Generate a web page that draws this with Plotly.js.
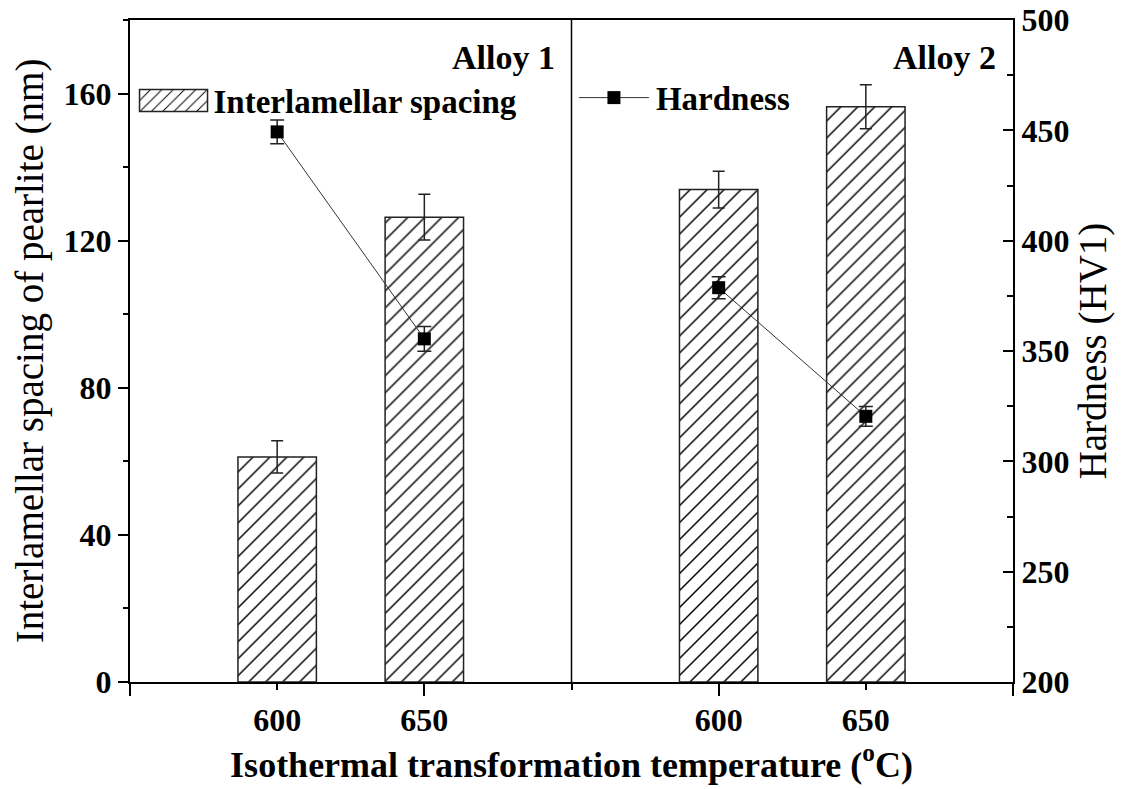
<!DOCTYPE html>
<html>
<head>
<meta charset="utf-8">
<script src="https://cdn.plot.ly/plotly-3.0.1.min.js"></script>
<style>
html,body{margin:0;padding:0;background:#fff;}
/* long legend swatches as in the reference */
#chart .legendlines path { d: path('M7,0 h70'); }
#chart .legendpoints path.pattern_filled { d: path('M34,11 H-34 V-11 H34 Z'); }
</style>
</head>
<body>
<div id="chart" style="width:1137px;height:789px;"></div>
<script>
// ---- data ----
const alloys = ['Alloy 1', 'Alloy 2'];
const temperatures = ['600', '650'];
// order: Alloy1-600, Alloy1-650, Alloy2-600, Alloy2-650
const spacing = [61.2, 126.4, 133.9, 156.4];        // nm
const spacingErr = [4.4, 6.2, 5.0, 6.0];
const hardness = [449.3, 355.5, 378.7, 320.4];      // HV1
const hardnessErr = [5.4, 5.6, 5.0, 4.5];

// ---- category positions on a numeric axis (one gap slot between alloys) ----
const pos = [];
const tickText = [];
alloys.forEach((a, ai) => temperatures.forEach((t, ti) => {
  pos.push(ai * (temperatures.length + 1) + ti + 1);
  tickText.push(t);
}));
const groupSize = temperatures.length + 1;
const xMax = alloys.length * groupSize;
const dividers = alloys.slice(0, -1).map((a, ai) => (ai + 1) * groupSize);

const FONT = 'Liberation Serif, Times New Roman, serif';
const INK = '#000';

const traces = [];
traces.push({
  type: 'bar', x: pos, y: spacing, name: 'Interlamellar spacing',
  xaxis: 'x', yaxis: 'y', width: 0.533, legend: 'legend', showlegend: true,
  marker: {
    color: '#fff',
    line: {color: '#222', width: 1.5},
    pattern: {shape: '/', fgcolor: '#000', bgcolor: '#fff', size: 12, solidity: 0.12, fillmode: 'replace'}
  },
  error_y: {type: 'data', array: spacingErr, visible: true, color: '#222', thickness: 1.5, width: 6}
});
alloys.forEach((a, ai) => {
  const idx = temperatures.map((t, ti) => ai * temperatures.length + ti);
  traces.push({
    type: 'scatter', mode: 'lines+markers', name: 'Hardness',
    x: idx.map(i => pos[i]), y: idx.map(i => hardness[i]),
    xaxis: 'x2', yaxis: 'y2', legend: 'legend2', showlegend: ai === 0,
    line: {color: '#333', width: 1},
    marker: {symbol: 'square', size: 13, color: INK},
    error_y: {type: 'data', array: idx.map(i => hardnessErr[i]), visible: true, color: '#222', thickness: 1.5, width: 7}
  });
});

const tickFont = {family: FONT, size: 32, color: INK, weight: 'bold'};

const layout = {
  width: 1137, height: 789,
  margin: {l: 130, r: 124, t: 20, b: 107},
  paper_bgcolor: '#fff', plot_bgcolor: '#fff',
  font: {family: FONT, color: INK},
  showlegend: true,
  barmode: 'overlay',
  xaxis: {
    range: [0, xMax], tickmode: 'array',
    tickvals: pos, ticktext: tickText,
    ticks: '', ticklabelstandoff: 9,
    showline: true, linewidth: 2, linecolor: INK, mirror: true,
    showgrid: false, zeroline: false, tickfont: tickFont,
    title: {text: 'Isothermal transformation temperature (<sup>o</sup>C)', font: {family: FONT, size: 36, color: INK, weight: 'bold'}, standoff: 14}
  },
  xaxis2: {
    overlaying: 'x', anchor: 'y2', side: 'bottom', range: [0, xMax],
    tickmode: 'linear', tick0: 0, dtick: 2,
    ticks: 'outside', ticklen: 13, tickwidth: 2, tickcolor: INK,
    minor: {dtick: 1, tick0: 0, ticks: 'outside', ticklen: 7, tickwidth: 2, tickcolor: INK},
    showticklabels: false, showline: false, showgrid: false, zeroline: false
  },
  yaxis: {
    range: [0, 180], tickmode: 'linear', tick0: 0, dtick: 40,
    ticks: 'outside', ticklen: 10, tickwidth: 2, tickcolor: INK,
    minor: {dtick: 20, tick0: 0, ticks: 'outside', ticklen: 5, tickwidth: 2, tickcolor: INK},
    showline: true, linewidth: 2, linecolor: INK,
    showgrid: false, zeroline: false, tickfont: tickFont,
    title: {text: 'Interlamellar spacing of pearlite (nm)', font: {family: FONT, size: 39, color: INK}, standoff: 8}
  },
  yaxis2: {
    overlaying: 'y', side: 'right', anchor: 'x',
    range: [200, 500], tickmode: 'linear', tick0: 200, dtick: 50,
    ticks: 'inside', ticklen: 10, tickwidth: 2, tickcolor: INK,
    minor: {dtick: 25, tick0: 200, ticks: 'inside', ticklen: 6, tickwidth: 2, tickcolor: INK},
    showline: true, linewidth: 2, linecolor: INK,
    showgrid: false, zeroline: false, tickfont: tickFont,
    title: {text: 'Hardness (HV1)', font: {family: FONT, size: 39, color: INK}, standoff: 10}
  },
  legend: {
    x: 0.004, y: 0.9205, xanchor: 'left', yanchor: 'top',
    bgcolor: 'rgba(0,0,0,0)', itemwidth: 70,
    font: {family: FONT, size: 33, color: INK, weight: 'bold'}
  },
  legend2: {
    x: 0.5005, y: 0.925, xanchor: 'left', yanchor: 'top',
    bgcolor: 'rgba(0,0,0,0)', itemwidth: 74,
    font: {family: FONT, size: 33, color: INK, weight: 'bold'}
  },
  shapes: dividers.map(d => ({
    type: 'line', xref: 'x', yref: 'paper', x0: d, x1: d, y0: 0, y1: 1,
    line: {color: INK, width: 1.5}
  })),
  annotations: alloys.map((a, ai) => ({
    text: a, xref: 'x', yref: 'paper', x: (ai + 1) * groupSize - 0.1, y: 0.944,
    xanchor: 'right', yanchor: 'middle', showarrow: false,
    font: {family: FONT, size: 34, color: INK, weight: 'bold'}
  }))
};

// widen the legend swatches to the reference's long hatched box and long line
function widenSwatches() {
  const gd = document.getElementById('chart');
  gd.querySelectorAll('.legendpoints path.pattern_filled, .legendpoints path.legendundefined, .legendpoints path.legendbar')
    .forEach(p => p.setAttribute('d', 'M34,11H-34V-11H34Z'));
  gd.querySelectorAll('.legendlines path').forEach(p => p.setAttribute('d', 'M7,0h70'));
  gd.querySelectorAll('[clip-path]').forEach(el => {
    if (el.closest && (el.closest('.legend') || el.closest('.legend2'))) el.removeAttribute('clip-path');
  });
}

Plotly.newPlot('chart', traces, layout, {displayModeBar: false, staticPlot: true}).then(gd => {
  widenSwatches();
  gd.on('plotly_afterplot', widenSwatches);
  setTimeout(widenSwatches, 50);
  setTimeout(widenSwatches, 300);
});
</script>
</body>
</html>
